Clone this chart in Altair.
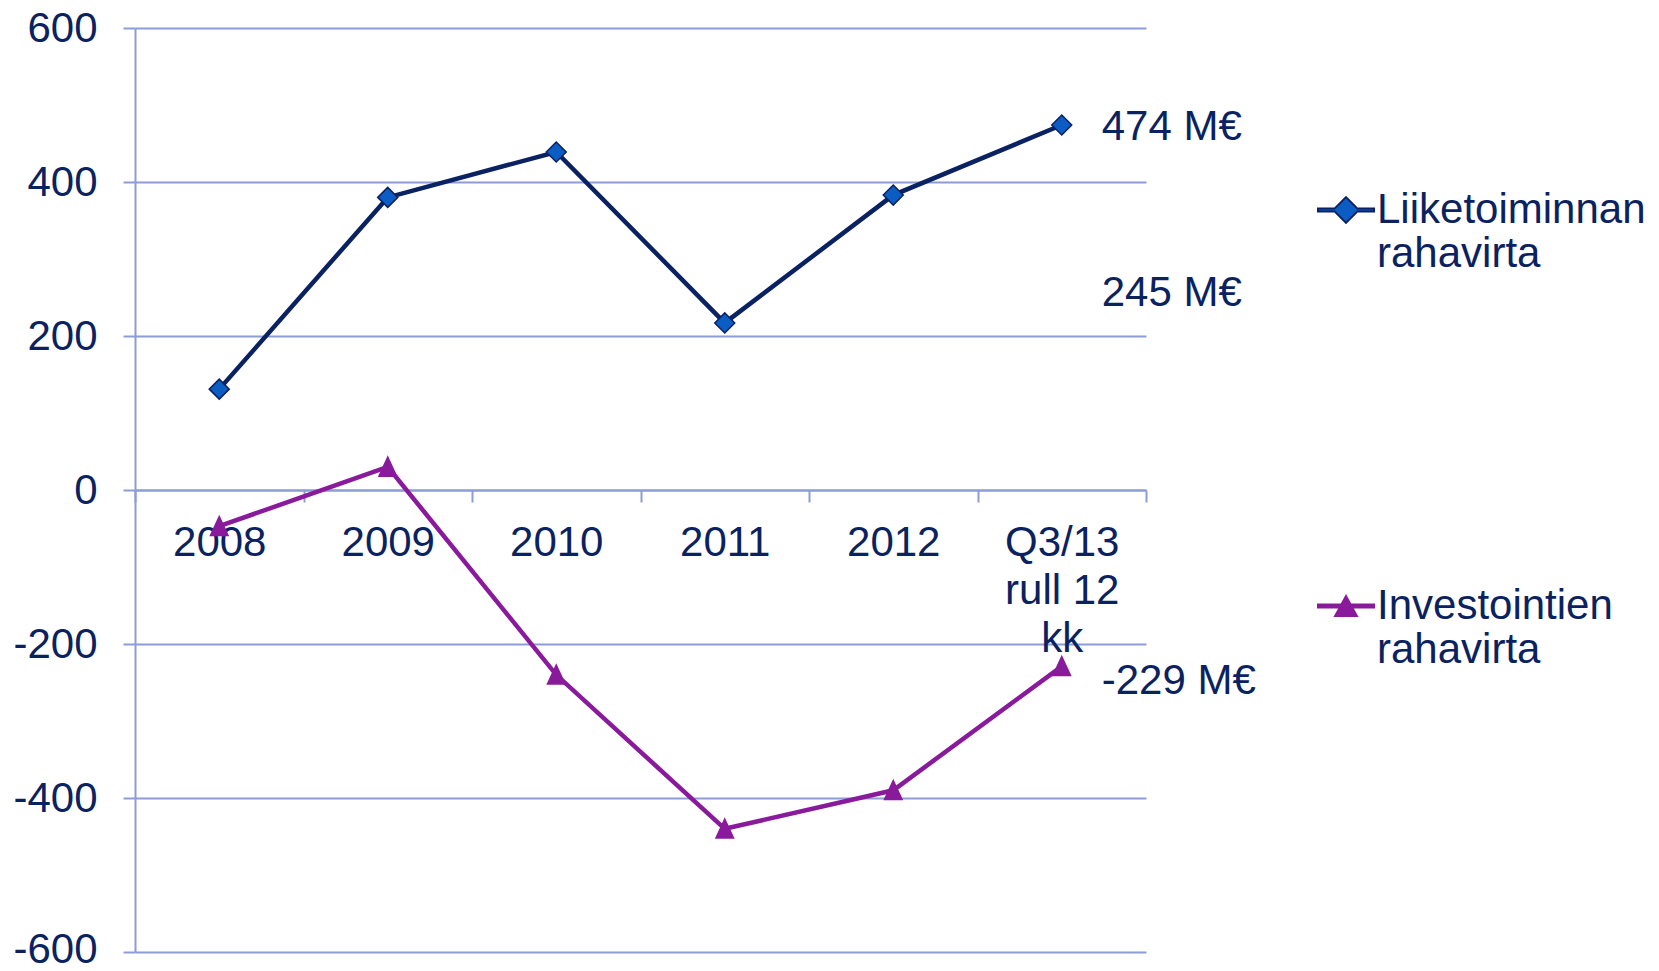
import altair as alt
import pandas as pd

# ---- data ----
categories = ["2008", "2009", "2010", "2011", "2012", "Q3/13\nrull 12\nkk"]
series_names = ["Liiketoiminnan rahavirta", "Investointien rahavirta"]
liiketoiminnan = [131, 380, 439, 217, 383, 474]
investointien = [-47, 30, -240, -440, -390, -229]

ann_text = ["474 M€", "245 M€", "-229 M€"]
ann_value = [474, 258, -245]

y_ticks = [-600, -400, -200, 0, 200, 400, 600]

# ---- styles ----
NAVY_TEXT = "#0B2260"
LINE_COLORS = ["#0A2162", "#8A1A9C"]
FILL_COLORS = ["#0B5DC4", "#8A1A9C"]
GRID = "#8C9CD5"
FONT = "Liberation Sans"

TRI_PATH = "M0,-1L0.9,0.95L-0.9,0.95Z"
LEG_DIAMOND = "M-1,-0.05L-0.41,-0.05L0,-0.46L0.41,-0.05L1,-0.05L1,0.05L0.41,0.05L0,0.46L-0.41,0.05L-1,0.05Z"
LEG_TRI = "M-1,-0.05L-0.165,-0.05L0,-0.35L0.165,-0.05L1,-0.05L1,0.05L0.22,0.05L0.39,0.36L-0.39,0.36L-0.22,0.05L-1,0.05Z"

rows = []
for name, vals in zip(series_names, [liiketoiminnan, investointien]):
    for c, v in zip(categories, vals):
        rows.append({"kausi": c, "sarja": name, "arvo": v})
df = pd.DataFrame(rows)
ann = pd.DataFrame({"kausi": [categories[-1]] * len(ann_text), "arvo": ann_value, "teksti": ann_text})

W, H = 1011, 924

x_enc = alt.X(
    "kausi:N",
    sort=categories,
    scale=alt.Scale(type="band", paddingInner=0, paddingOuter=0),
    axis=alt.Axis(
        orient="bottom", offset=-H / 2, tickBand="extent", grid=False,
        domainColor=GRID, domainWidth=2, tickColor=GRID, tickWidth=2, tickSize=12,
        labelFont=FONT, labelFontSize=42, labelColor=NAVY_TEXT, labelPadding=20,
        labelAngle=0, labelLineHeight=48, labelOverlap=False,
        labelExpr="split(datum.label, '\\n')", title=None,
    ),
)
y_enc = alt.Y(
    "arvo:Q",
    scale=alt.Scale(domain=[-600, 600], nice=False),
    axis=alt.Axis(
        values=y_ticks, grid=True, gridColor=GRID, gridWidth=2,
        domainColor=GRID, domainWidth=2, tickColor=GRID, tickWidth=2, tickSize=12,
        labelFont=FONT, labelFontSize=42, labelColor=NAVY_TEXT, labelPadding=26,
        labelOffset={"condition": {"test": "datum.value == -600", "value": -3}, "value": 0},
        labelExpr="'' + datum.value",
        title=None,
    ),
)

lines = alt.Chart(df).mark_line(strokeWidth=4.5).encode(
    x=x_enc, y=y_enc,
    stroke=alt.Stroke("sarja:N", scale=alt.Scale(domain=series_names, range=LINE_COLORS), legend=None),
    detail="sarja:N",
)

points = alt.Chart(df).mark_point(filled=True, opacity=1, strokeWidth=1.5).encode(
    x=x_enc, y=y_enc,
    fill=alt.Fill("sarja:N", scale=alt.Scale(domain=series_names, range=FILL_COLORS), legend=None),
    stroke=alt.Stroke("sarja:N", scale=alt.Scale(domain=series_names, range=LINE_COLORS), legend=None),
    shape=alt.Shape("sarja:N", scale=alt.Scale(domain=series_names, range=["diamond", TRI_PATH]), legend=None),
    size=alt.Size("sarja:N", scale=alt.Scale(domain=series_names, range=[400, 380]), legend=None),
)

labels = alt.Chart(ann).mark_text(
    align="left", baseline="middle", dx=40, dy=2, fontSize=42, font=FONT, color=NAVY_TEXT
).encode(x=x_enc, y=y_enc, text="teksti:N")

leg = alt.Legend(
    title=None, orient="none", legendX=1182, legendY=153, padding=0,
    labelFont=FONT, labelFontSize=42, labelColor=NAVY_TEXT, labelLimit=500,
    labelBaseline="middle", labelOffset=2,
    labelExpr="split(datum.label, ' ')",
    rowPadding=302, symbolSize=3136, symbolStrokeWidth=2, symbolOpacity=1,
)
legend_layer = alt.Chart(df).mark_point(filled=True, opacity=0, size=3136, strokeWidth=2).encode(
    x=x_enc, y=y_enc,
    fill=alt.Fill("sarja:N", scale=alt.Scale(domain=series_names, range=FILL_COLORS), legend=leg),
    stroke=alt.Stroke("sarja:N", scale=alt.Scale(domain=series_names, range=LINE_COLORS), legend=leg),
    shape=alt.Shape("sarja:N", scale=alt.Scale(domain=series_names, range=[LEG_DIAMOND, LEG_TRI]), legend=leg),
)

chart = (
    alt.layer(lines, points, labels, legend_layer)
    .resolve_scale(fill="independent", stroke="independent", shape="independent", size="independent")
    .properties(
        width=W, height=H,
        padding={"left": 127, "top": 20, "right": 505, "bottom": 11},
        autosize=alt.AutoSizeParams(type="none"),
        background="white",
    )
    .configure_view(stroke=None)
)

chart.save("out.html", embed_options={"renderer": "svg", "actions": False})
